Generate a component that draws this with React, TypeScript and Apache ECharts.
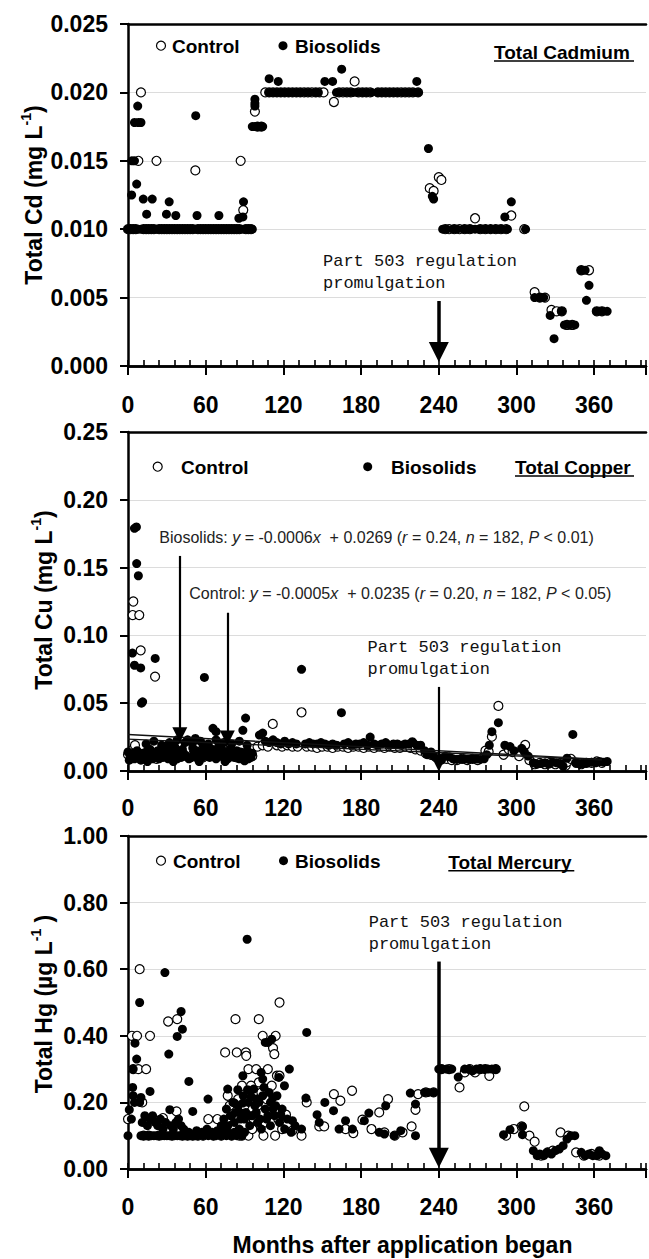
import React, { useEffect, useRef } from "react";
import * as echarts from "echarts";

// ---------------- data (months after application began, concentration) ----------------
const cdControl: number[][] = [
  [0, .010], [2, .010], [4, .010], [6, .010], [8, .015], [10, .020], [12, .010], [14, .010], [16, .010], [18, .010],
  [20, .010], [22, .015], [24, .010], [26, .010], [28, .010], [30, .010], [32, .010], [34, .010], [36, .010], [38, .010],
  [40, .010], [42, .010], [44, .010], [46, .010], [48, .010], [50, .010], [52, .0143], [54, .010], [56, .010], [58, .010],
  [60, .010], [62, .010], [64, .010], [66, .010], [68, .010], [70, .010], [72, .010], [74, .010], [76, .010], [78, .010],
  [80, .010], [82, .010], [84, .010], [86, .010], [87, .015], [89, .0114], [91, .010], [93, .010], [95, .010],
  [98, .0186], [100, .0175], [103, .0175], [106, .020], [109, .020], [112, .020], [115, .020], [118, .020], [121, .020],
  [124, .020], [127, .020], [130, .020], [133, .020], [136, .020], [139, .020], [142, .020], [145, .020], [148, .020],
  [151, .020], [159, .0193], [163, .020], [166, .020], [169, .020], [172, .020], [175, .0208], [178, .020], [181, .020],
  [184, .020], [187, .020], [193, .020], [196, .020], [199, .020], [202, .020], [205, .020], [208, .020], [211, .020],
  [214, .020], [217, .020], [220, .020], [224, .020],
  [233, .0130], [236, .0128], [240, .0138], [242, .0136], [245, .010], [248, .010], [252, .010], [256, .010], [260, .010],
  [264, .010], [268, .0108], [272, .010], [276, .010], [280, .010], [284, .010], [288, .010], [292, .010], [296, .0110],
  [306, .010], [314, .0054], [318, .005], [322, .005], [327, .0041], [331, .004], [335, .004], [339, .003], [343, .003],
  [350, .007], [356, .007], [362, .004], [366, .004],
];

const cdBiosolids: number[][] = [
  [0, .010], [2, .010], [4, .010], [6, .010], [8, .010], [10, .010], [12, .010], [14, .010], [16, .010], [18, .010],
  [20, .010], [22, .010], [24, .010], [26, .010], [28, .010], [30, .010], [32, .010], [34, .010], [36, .010], [38, .010],
  [40, .010], [42, .010], [44, .010], [46, .010], [48, .010], [50, .010], [52, .010], [54, .010], [56, .010], [58, .010],
  [60, .010], [62, .010], [64, .010], [66, .010], [68, .010], [70, .010], [72, .010], [74, .010], [76, .010], [78, .010],
  [80, .010], [82, .010], [84, .010], [86, .010], [88, .010], [90, .010], [92, .010], [94, .010], [96, .010],
  [2.8, .0125], [3, .015], [5, .015], [5, .0178], [6.7, .0133], [7.5, .019], [8, .0178], [10, .0178], [11.8, .0122],
  [14.4, .0111], [18.7, .0122], [29.7, .0111], [31.8, .0120], [36.9, .0110], [52.3, .0183], [53.3, .0110], [70.2, .0110],
  [85.6, .0108], [88.7, .0109], [89.2, .0120],
  [96, .0175], [98, .0175], [100, .0175], [102, .0175], [104, .0175], [98, .0190], [98, .0192], [98, .0195],
  [109, .0210], [116, .0208], [109, .020], [112, .020], [115, .020], [118, .020], [121, .020], [124, .020], [127, .020],
  [130, .020], [133, .020], [137, .020], [140, .020], [145, .020], [147, .020], [152, .0208], [158, .0208], [165, .0217],
  [161, .020], [164, .020], [168, .020], [171, .020], [174, .020], [177, .020], [181, .020], [184, .020], [188, .020],
  [193, .020], [196, .020], [199, .020], [202, .020], [205, .020], [208, .020], [212, .020], [215, .020], [218, .020],
  [221, .020], [223, .0208], [224, .020],
  [232, .0159], [235, .0124], [236, .0122],
  [243, .010], [246, .010], [251, .010], [254, .010], [259, .010], [262, .010], [265, .010], [268, .010], [271, .010],
  [274, .010], [277, .010], [280, .010], [283, .010], [286, .010], [289, .010], [293, .010], [291, .0109], [296, .0120],
  [307, .010],
  [314, .005], [318, .005], [321, .005], [326, .0037], [329, .002], [335, .004], [337, .003], [341, .003], [345, .003],
  [350, .007], [353, .007], [354, .0048], [356, .0059], [362, .004], [366, .004], [370, .004],
];

const cuControl: number[][] = [
  [0, .012], [2, .010], [4, .016], [5.4, .019], [3.6, .115], [4.1, .125], [8.7, .115], [9.8, .089], [20.9, .0696],
  [6, .011], [8, .013], [10, .009], [12, .012], [14, .010], [16, .014], [18, .011], [20, .013], [22, .009], [24, .012],
  [26, .015], [28, .011], [30, .018], [32, .013], [34, .010], [36, .012], [38, .019], [40, .014], [42, .011], [44, .013],
  [46, .016], [48, .010], [50, .012], [52, .014], [54, .011], [56, .013], [58, .010], [60, .012], [62, .015], [64, .011],
  [66, .013], [68, .010], [70, .012], [72, .014], [74, .016], [76, .013], [78, .015], [80, .011], [82, .012], [84, .010],
  [86, .013], [88, .011], [90, .012], [92, .010], [94, .013], [96, .011],
  [100, .018], [104, .019], [108, .018], [111.8, .0347], [115, .019], [119, .018], [123, .019], [127, .018], [131, .018],
  [134, .0433], [138, .018], [142, .018], [146, .017], [150, .018], [154, .018], [158, .017], [162, .018], [166, .018],
  [170, .017], [174, .018], [178, .018], [182, .017], [186, .018], [190, .017], [194, .018], [198, .017], [202, .018],
  [206, .017], [210, .017], [214, .018], [218, .017], [222, .016], [226, .015], [230, .013], [234, .012], [238, .010],
  [242, .009], [246, .009], [250, .008], [254, .008], [258, .009], [262, .008], [266, .009], [270, .008], [274, .010],
  [276, .015], [278.5, .0142], [281, .0253], [286, .048], [290, .012], [294, .016], [297, .014], [302, .011],
  [306.7, .0192], [310, .008], [314, .005], [318, .006], [322, .005], [326, .006], [330, .005], [334, .006], [338, .004],
  [339, .0065], [342, .009], [346, .006], [350, .005], [354, .006], [358, .006], [362, .007], [366, .006],
];

const cuBiosolids: number[][] = [
  [0, .014], [1, .008], [2, .012], [3, .010], [4, .013], [5, .009], [6, .011], [7, .015], [8, .010], [9, .012],
  [10, .008], [11, .013], [12, .011], [13, .009], [14, .014], [15, .012], [16, .010], [17, .016], [18, .011], [19, .009],
  [20, .013], [21, .010], [22, .012], [23, .015], [24, .009], [25, .011], [26, .014], [27, .010], [28, .012], [29, .017],
  [30, .011], [31, .009], [32, .013], [33, .015], [34, .010], [35, .012], [36, .018], [37, .011], [38, .009], [39, .014],
  [40, .012], [41, .010], [42, .016], [43, .013], [44, .021], [45, .011], [46, .023], [47, .009], [48, .022], [49, .010],
  [50, .017], [51, .013], [52, .024], [53, .015], [54, .009], [55, .012], [56, .014], [57, .010], [58, .019], [59, .012],
  [60, .011], [61, .014], [62, .013], [63, .010], [64, .012], [65, .016], [66, .011], [67, .014], [68, .009], [69, .012],
  [70, .018], [71, .013], [72, .011], [73, .015], [74, .010], [75, .013], [76, .012], [77, .009], [78, .014], [79, .016],
  [80, .011], [81, .013], [82, .010], [83, .012], [84, .015], [85, .011], [86, .009], [87, .014], [88, .012], [89, .010],
  [90, .013], [91, .011], [92, .015], [93, .009], [94, .012], [95, .010], [96, .013],
  [14, .020], [20, .022], [26, .019], [32, .021], [38, .023], [50, .021], [56, .022], [62, .020], [68, .023], [74, .021],
  [80, .020], [86, .022], [92, .019], [15, .007], [35, .007], [55, .007], [75, .007], [90, .0075],
  [5, .179], [6.5, .180], [6.7, .153], [8, .144], [3.4, .087], [5, .078], [9.8, .076], [10.4, .050], [11.3, .051],
  [21, .083], [59, .069], [65.6, .0315], [68, .029], [88.7, .030], [90.8, .039], [101.5, .0265], [104, .028],
  [106, .022], [109, .021], [112, .023], [115, .021], [118, .020], [121, .022], [124, .020], [127, .021], [130, .020],
  [134, .075], [137, .020], [140, .021], [143, .020], [146, .020], [149, .021], [152, .020], [155, .019], [158, .020],
  [161, .019], [164.8, .043], [167, .020], [170, .021], [173, .019], [176, .020], [179, .020], [182, .021], [185, .019],
  [187, .025], [190, .020], [193, .019], [196, .020], [199, .021], [202, .019], [205, .020], [208, .020], [211, .019],
  [214, .020], [217, .020], [219.5, .0216], [220, .021], [223, .019], [226, .019], [229, .015], [231, .012], [234, .014],
  [236, .011], [240, .009], [242, .008], [245, .011], [248, .0105], [251, .009], [254, .0085], [257, .009], [260, .0088],
  [263, .0085], [266, .009], [269, .0088], [272, .0085], [275, .009], [277, .012], [279, .019], [281, .029], [286, .0356],
  [291, .019], [295, .018], [298, .015], [304, .0167], [306, .0142], [309, .011], [313, .006], [316, .005], [319, .0055],
  [322, .006], [325, .005], [328, .0065], [331, .006], [334, .0055], [336, .0035], [339, .0094], [343.5, .027], [346, .006],
  [349, .005], [352, .0055], [355, .006], [358, .0065], [361, .006], [364, .007], [367, .0065], [370, .007],
];

const hgControl: number[][] = [
  [0, .15], [3, .40], [7, .40], [4, .30], [8, .30], [9, .60], [11, .20], [14, .30], [17, .40], [12, .10], [16, .10],
  [20, .15], [24, .10], [27, .153], [31, .443], [34, .10], [37.5, .173], [38, .45], [42, .10], [46, .10], [50, .10],
  [54, .10], [58, .10], [62, .15], [66, .10], [69, .15], [72, .10], [75, .35], [77, .22], [78.5, .19], [80, .10],
  [83, .45], [84, .35], [86, .10], [88, .10], [88, .25], [91, .35], [91.3, .34], [93, .30], [93, .10], [96, .12],
  [99, .30], [101, .45], [101, .26], [104, .40], [104.6, .10], [106, .14], [108, .30], [110, .17], [112, .363],
  [113, .345], [113.6, .10], [114, .40], [115, .28], [117, .50], [117, .28], [122, .163], [127, .115], [134, .10],
  [80, .13], [85, .21], [90, .19], [95, .25], [97, .15], [100, .19], [103, .23], [107, .21], [111, .25], [116, .15],
  [119, .12],
  [138, .20], [147.7, .128], [151.5, .128], [159, .225], [164, .205], [168, .12], [173, .235], [174, .108], [181, .148],
  [188, .12], [194, .17], [198, .11], [200.8, .21], [206, .10], [212, .11], [219, .128], [222, .178], [224, .225],
  [230, .23], [236, .23], [242, .30], [248, .30], [256, .245], [260, .29], [264, .30], [268, .29], [272, .30], [276, .30],
  [279, .28], [284, .30], [292, .10], [298, .12], [304, .128], [306, .188], [310, .10], [314, .082], [319, .04],
  [324, .05], [328, .055], [334, .11], [340, .10], [346, .05], [352, .04], [358, .045], [364, .04],
];

const hgBiosolids: number[][] = [
  [10, .10], [12, .10], [14, .10], [16, .10], [18, .10], [20, .10], [22, .10], [24, .10], [26, .10], [28, .10],
  [30, .10], [32, .10], [34, .10], [36, .10], [38, .10], [40, .10], [42, .10], [44, .10], [46, .10], [48, .10],
  [50, .10], [52, .10], [54, .10], [56, .105], [58, .10], [60, .105], [62, .10], [64, .105], [66, .10], [68, .10],
  [70, .105], [72, .10], [74, .11], [76, .10], [78, .105], [80, .10], [82, .11], [84, .10], [86, .12], [88, .10], [90, .11],
  [11, .14], [13, .16], [15, .13], [17, .15], [19, .16], [21, .14], [23, .13], [25, .15], [27, .12], [29, .14],
  [33, .13], [35, .12], [39, .15], [41, .13], [43, .12], [47, .11], [53, .115], [57, .11], [61, .12], [65, .11],
  [69, .115], [73, .12], [77, .13], [72, .13], [74, .15], [76, .12], [80, .16], [82, .14], [86, .17], [90, .15],
  [94, .13], [96, .16], [100, .14], [103, .12], [107, .15], [110, .13],
  [76, .18], [79, .16], [81, .20], [83, .17], [85, .19], [87, .15], [89, .22], [91, .17], [93, .20], [95, .16],
  [97, .24], [99, .17], [101, .20], [102, .15], [104, .22], [106, .18], [108, .16], [109, .23], [110, .20], [113, .16],
  [115, .22], [117, .14], [119, .18], [121, .12], [123, .15], [126, .11], [129, .13],
  [0, .10], [1, .178], [2.6, .15], [3.6, .245], [4, .30], [4, .22], [5.4, .378], [6.7, .33], [5, .20], [9, .50],
  [9, .20], [10, .215], [17, .233], [28.5, .59], [31.5, .345], [32.3, .178], [37, .14], [38, .398], [41, .473], [42, .42],
  [47, .263], [50, .173], [61.8, .21], [77, .24], [82.3, .198], [84.8, .238], [88.7, .28], [88.7, .198], [92, .69],
  [92.3, .238], [95, .218], [98, .19], [99, .21], [102.8, .29], [104, .27], [105, .245], [106, .38], [108, .38],
  [111, .39], [111.8, .213], [112, .18], [114, .19], [116.5, .275], [118, .163], [120.8, .25], [124.6, .30], [127, .145],
  [134, .12], [137.4, .213], [138, .41], [146, .163], [147.7, .14], [152, .20], [158.7, .175], [163, .12], [168, .145],
  [173.3, .12], [182.5, .145], [186, .168], [194, .11], [198, .105], [199, .19], [205.5, .10], [210.6, .115], [218, .228],
  [222, .195], [222, .10], [229, .23], [232, .23], [236, .23],
  [240, .30], [243, .30], [246, .30], [250, .30], [255, .276], [260, .30], [263, .30], [266, .295], [269, .30], [272, .30],
  [275, .30], [278, .30], [281, .30], [284, .30], [290, .103], [295, .118], [304.6, .128], [304.6, .103],
  [313, .055], [316, .04], [318, .045], [321, .04], [324, .05], [327, .045], [330, .055], [333, .06], [336, .07],
  [339, .09], [342, .10], [345, .10], [350, .05], [353, .04], [356, .045], [359, .04], [362, .04], [364, .055],
  [366, .045], [369, .04],
];

// regression lines (Total Cu), endpoints from the printed equations
const cuBioFit: number[][] = [[0, 0.0269], [366, 0.0086]];
const cuControlFit: number[][] = [[0, 0.0235], [366, 0.0083]];

// annotation arrows in data coordinates [month, value] (start, end)
const cdRegArrow: number[][] = [[240, 0.00475], [240, 0.00102]];
const cuRegArrow: number[][] = [[240, 0.062], [240, 0.0052]];
const cuBioArrow: number[][] = [[40, 0.1586], [40, 0.0268]];
const cuControlArrow: number[][] = [[76.7, 0.1167], [76.7, 0.0243]];
const hgRegArrow: number[][] = [[240, 0.623], [240, 0.034]];

const yMax = [0.025, 0.25, 1.0];
const yInterval = [0.005, 0.05, 0.2];
const yDecimals = [3, 2, 2];

// ---------------- layout / style ----------------
const FONT = '"Liberation Sans", Arial, Helvetica, sans-serif';
const MONO = '"Liberation Mono", "Courier New", monospace';
const gridTops = [24, 432, 836];
const gridHeights = [342, 339, 333];
const labelMargins = [27, 25, 26];

function buildOption() {
  const grid = gridTops.map((t, i) => ({ left: 128, top: t, width: 520, height: gridHeights[i] }));
  const xAxis: any[] = [];
  const yAxis: any[] = [];
  for (let i = 0; i < 3; i++) {
    // main axis: 12-month ticks pointing inward, labels every 60
    xAxis.push({
      gridIndex: i, type: "value", min: 0, max: 400, interval: 12, position: "bottom",
      axisLine: { show: true, onZero: false, lineStyle: { color: "#000", width: 2.5 } },
      axisTick: { show: true, inside: true, length: 6, lineStyle: { color: "#000", width: 1.6 } },
      axisLabel: {
        show: true, margin: labelMargins[i], color: "#000", fontSize: 23, fontWeight: "bold", fontFamily: FONT,
        formatter: (v: number) => (Math.round(v) % 60 === 0 ? String(Math.round(v)) : ""),
      },
      splitLine: { show: false },
    });
    // major ticks every 60 pointing outward
    xAxis.push({
      gridIndex: i, type: "value", min: 0, max: 400, interval: 60, position: "bottom",
      axisLine: { show: true, onZero: false, lineStyle: { color: "#000", width: 2.5 } },
      axisTick: { show: true, inside: false, length: 9, lineStyle: { color: "#000", width: 2 } },
      axisLabel: { show: false }, splitLine: { show: false },
    });
    // top frame line
    xAxis.push({
      gridIndex: i, type: "value", min: 0, max: 400, position: "top",
      axisLine: { show: true, onZero: false, lineStyle: { color: "#000", width: 2.5 } },
      axisTick: { show: false }, axisLabel: { show: false }, splitLine: { show: false },
    });
    yAxis.push({
      gridIndex: i, type: "value", min: 0, max: yMax[i], interval: yInterval[i],
      axisLine: { show: true, onZero: false, lineStyle: { color: "#000", width: 2.5 } },
      axisTick: { show: true, length: 8, lineStyle: { color: "#000", width: 2 } },
      axisLabel: {
        margin: 20, color: "#000", fontSize: 23, fontWeight: "bold", fontFamily: FONT,
        formatter: (v: number) => v.toFixed(yDecimals[i]),
      },
      splitLine: { show: true, lineStyle: { color: "#dcdcdc", width: 1 } },
    });
  }

  const controlStyle = { color: "#fff", borderColor: "#000", borderWidth: 1.2, opacity: 1 };
  const bioStyle = { color: "#000", opacity: 1 };
  const arrowLine = (pairs: number[][][], width: number, size: number) => ({
    silent: true, animation: false, symbol: ["none", "triangle"], symbolSize: size,
    label: { show: false },
    lineStyle: { color: "#000", width, type: "solid", opacity: 1 },
    itemStyle: { color: "#000", opacity: 1 },
    data: pairs.map((p) => [{ coord: p[0] }, { coord: p[1] }]),
  });

  const controls = [cdControl, cuControl, hgControl];
  const bios = [cdBiosolids, cuBiosolids, hgBiosolids];
  const marks = [
    arrowLine([cdRegArrow], 3.5, 20),
    arrowLine([cuRegArrow, cuBioArrow, cuControlArrow], 2.2, 15),
    arrowLine([hgRegArrow], 3.5, 20),
  ];
  const series: any[] = [];
  for (let i = 0; i < 3; i++) {
    series.push({
      type: "scatter", xAxisIndex: 3 * i, yAxisIndex: i, data: controls[i], symbol: "circle",
      symbolSize: 9, itemStyle: controlStyle, silent: true, z: 2,
    });
    series.push({
      type: "scatter", xAxisIndex: 3 * i, yAxisIndex: i, data: bios[i], symbol: "circle",
      symbolSize: 9, itemStyle: bioStyle, silent: true, z: 3,
    });
  }
  series.push({
    type: "line", xAxisIndex: 3, yAxisIndex: 1, data: cuBioFit, showSymbol: false, silent: true, z: 4,
    lineStyle: { color: "#111", width: 1.4 },
  });
  series.push({
    type: "line", xAxisIndex: 3, yAxisIndex: 1, data: cuControlFit, showSymbol: false, silent: true, z: 4,
    lineStyle: { color: "#111", width: 1.4 },
  });
  for (let i = 0; i < 3; i++) {
    series.push({
      type: "line", xAxisIndex: 3 * i, yAxisIndex: i, data: [], silent: true, z: 5,
      showSymbol: false, lineStyle: { width: 0 },
      markLine: marks[i],
    });
  }

  const legendFont = { fontSize: 19, fontWeight: "bold", fontFamily: FONT, fill: "#000" };
  const txt = (x: number, y: number, text: string, extra: any = {}) => ({
    type: "text", x, y, z: 100, silent: true,
    style: { text, align: "left", verticalAlign: "middle", ...legendFont, ...extra },
  });
  const circ = (cx: number, cy: number, filled: boolean) => ({
    type: "circle", z: 100, silent: true, shape: { cx, cy, r: 4.5 },
    style: filled ? { fill: "#000" } : { fill: "#fff", stroke: "#000", lineWidth: 1.2 },
  });
  const uline = (x1: number, x2: number, y: number) => ({
    type: "line", z: 100, silent: true, shape: { x1, y1: y, x2, y2: y }, style: { stroke: "#000", lineWidth: 1.5 },
  });
  const mono = (x: number, y: number) => ({
    type: "text", x, y, z: 100, silent: true,
    style: {
      text: "Part 503 regulation\npromulgation", align: "left", verticalAlign: "middle",
      fontSize: 17, fontFamily: MONO, fill: "#111", lineHeight: 22,
    },
  });
  const yTitle = (x: number, y: number, main: string, tail: string) => ({
    type: "text", x, y, z: 100, silent: true, rotation: Math.PI / 2,
    style: {
      text: `{a|${main}}{s|-1}{a|${tail}}`, align: "center", verticalAlign: "middle",
      rich: {
        a: { fontSize: 23, fontWeight: "bold", fontFamily: FONT, fill: "#000", color: "#000", lineHeight: 26, verticalAlign: "bottom" },
        s: { fontSize: 14, fontWeight: "bold", fontFamily: FONT, fill: "#000", color: "#000", lineHeight: 14, verticalAlign: "top" },
      },
    },
  });
  const eqRich = {
    n: { fontSize: 16, fontFamily: FONT, fill: "#222", color: "#222" },
    i: { fontSize: 16, fontFamily: FONT, fontStyle: "italic", fill: "#222", color: "#222" },
  };
  const eq = (x: number, y: number, text: string) => ({
    type: "text", x, y, z: 100, silent: true,
    style: { text, align: "left", verticalAlign: "middle", rich: eqRich },
  });

  const graphic = [
    // panel 1
    circ(161, 45.7, false), txt(172, 46, "Control"), circ(283, 45.7, true), txt(295, 46, "Biosolids"),
    txt(494, 52, "Total Cadmium"), uline(494, 634, 61),
    mono(323, 272.5),
    yTitle(32, 195, "Total Cd (mg L", ")"),
    // panel 2
    circ(157.7, 466.7, false), txt(181, 467, "Control"), circ(367.7, 466.7, true), txt(391, 467, "Biosolids"),
    txt(515, 467, "Total Copper"), uline(515, 634, 476),
    eq(159.3, 537.3, "{n|Biosolids: }{i|y}{n| = -0.0006}{i|x}{n|  + 0.0269 (}{i|r}{n| = 0.24, }{i|n}{n| = 182, }{i|P}{n| < 0.01)}"),
    eq(189.3, 593.3, "{n|Control: }{i|y}{n| = -0.0005}{i|x}{n|  + 0.0235 (}{i|r}{n| = 0.20, }{i|n}{n| = 182, }{i|P}{n| < 0.05)}"),
    mono(367.5, 658.3),
    yTitle(42, 600, "Total Cu (mg L", ")"),
    // panel 3
    circ(161, 860.7, false), txt(173, 861, "Control"), circ(283.5, 860.7, true), txt(295, 861, "Biosolids"),
    txt(448.3, 862, "Total Mercury"), uline(448.3, 574.3, 870.7),
    mono(368.7, 933.3),
    yTitle(42, 1004, "Total Hg (\u00b5g L", " )"),
    // x title
    {
      type: "text", x: 402.5, y: 1245, z: 100, silent: true,
      style: { text: "Months after application began", align: "center", verticalAlign: "middle", fontSize: 23, fontWeight: "bold", fontFamily: FONT, fill: "#000" },
    },
  ];

  return { animation: false, backgroundColor: "#fff", grid, xAxis, yAxis, series, graphic };
}

export default function App() {
  const ref = useRef<HTMLDivElement>(null);
  useEffect(() => {
    if (!ref.current) return;
    const chart = echarts.init(ref.current, null, { renderer: "svg" });
    chart.setOption(buildOption() as any);
    return () => chart.dispose();
  }, []);
  return (
    <div
      ref={ref}
      style={{ position: "absolute", left: 0, top: 0, width: 649, height: 1259, background: "#fff" }}
    />
  );
}
